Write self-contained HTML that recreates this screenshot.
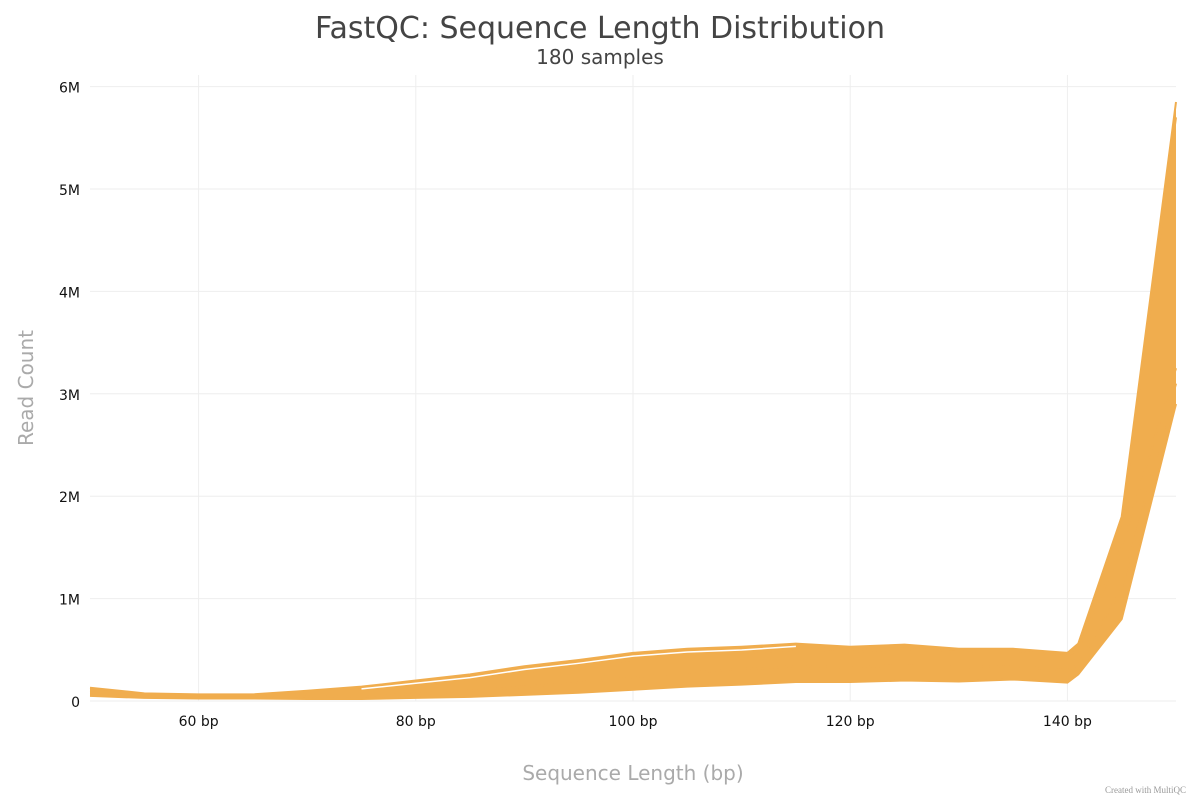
<!DOCTYPE html>
<html><head><meta charset="utf-8"><style>
body{margin:0;background:#fff;width:1200px;height:800px;overflow:hidden;font-family:"Liberation Sans","DejaVu Sans",sans-serif}
</style></head><body>
<svg id="chart" width="1200" height="800">
<text x="600" y="38" text-anchor="middle" font-size="30" fill="#444" font-family="DejaVu Sans, sans-serif">FastQC: Sequence Length Distribution</text>
<text x="600" y="64" text-anchor="middle" font-size="20" fill="#444" font-family="DejaVu Sans, sans-serif">180 samples</text>
<g id="grid"></g><g id="marks"></g><g id="axes" font-family="DejaVu Sans, sans-serif"></g>
<text x="633" y="780" text-anchor="middle" font-size="20" fill="#aaa" font-family="DejaVu Sans, sans-serif">Sequence Length (bp)</text>
<text transform="translate(33,388) rotate(-90)" text-anchor="middle" font-size="20" fill="#aaa" font-family="DejaVu Sans, sans-serif">Read Count</text>
<text x="1186" y="793" text-anchor="end" font-size="9" fill="#999" font-family="Liberation Serif, serif">Created with MultiQC</text>
</svg>
<script>
const lengths=[50,55,60,65,70,75,80,85,90,95,100,105,110,115,120,125,130,135,140,141,145,150];
const seriesTop=[130,75,65,65,100,140,200,260,340,400,470,510,530,560,530,550,510,510,470,560,1800,5850];
const seriesHigh=[100,70,60,60,95,130,185,240,320,380,450,490,510,545,515,535,500,500,460,540,1750,5700];
const seriesMid=[80,60,55,55,80,110,160,200,280,340,400,460,470,500,480,510,480,490,440,500,1500,3250];
const seriesLow=[60,40,35,35,40,45,70,100,140,180,230,280,310,340,330,350,330,340,300,350,1100,3100];
const seriesBottom=[50,30,25,25,20,20,30,40,60,80,110,140,160,185,185,200,190,210,180,260,800,2900];
const allSeries=[seriesTop,seriesHigh,seriesMid,seriesLow,seriesBottom];
const xTicks=[60,80,100,120,140];
const yTicks=[0,1,2,3,4,5,6];
const yTickLabels=["0","1M","2M","3M","4M","5M","6M"];
const X=v=>90+(v-50)*10.86;
const Y=k=>701-k*0.1024;
const ns="http://www.w3.org/2000/svg";
const grid=document.getElementById('grid'),marks=document.getElementById('marks'),axes=document.getElementById('axes');
function mk(tag,attrs,parent){const e=document.createElementNS(ns,tag);for(const k in attrs)e.setAttribute(k,attrs[k]);parent.appendChild(e);return e;}
xTicks.forEach(t=>{
 const l=mk('line',{x1:X(t),x2:X(t),y1:75,y2:701,stroke:'#eee'},grid);
 
 
 const tx=mk('text',{x:X(t),y:726,'text-anchor':'middle','font-size':14,fill:'#111'},axes);
 tx.textContent=t+' bp';
 
 
});
yTicks.forEach((t,i)=>{
 const l=mk('line',{x1:90,x2:1176,y1:Y(t*1000),y2:Y(t*1000),stroke:'#eee'},grid);
 
 
 const tx=mk('text',{x:80,y:Y(t*1000)+6,'text-anchor':'end','font-size':14,fill:'#111'},axes);
 tx.textContent=yTickLabels[i];
 
 
});
const up=lengths.map((l,i)=>X(l)+','+Y(Math.max(...allSeries.map(s=>s[i])))).join(' ');
const dn=lengths.map((l,i)=>X(l)+','+Y(Math.min(...allSeries.map(s=>s[i])))).reverse().join(' ');
const band=mk('polygon',{points:up+' '+dn,fill:'#f0ad4e'},marks);


allSeries.forEach((s,j)=>{
 const p=mk('polyline',{points:lengths.map((l,i)=>X(l)+','+Y(s[i])).join(' '),fill:'none',stroke:'#f0ad4e','stroke-width':2},marks);
 
 
});
const gap=mk('polyline',{points:lengths.slice(5,14).map((l,i)=>X(l)+','+Y(seriesHigh[i+5]-12)).join(' '),fill:'none',stroke:'#fff','stroke-width':1.5},marks);


</script>
</body></html>
